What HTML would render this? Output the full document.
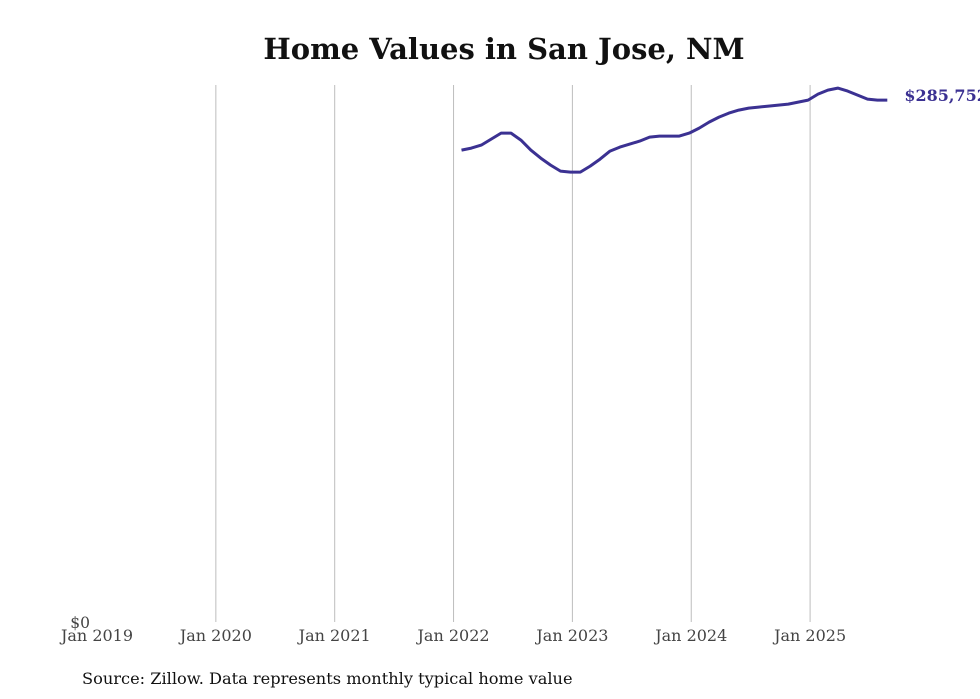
<!DOCTYPE html>
<html><head><meta charset="utf-8"><style>
body{margin:0;background:#fff;overflow:hidden;}
svg{display:block;font-family:"DejaVu Serif","Liberation Serif",serif;}
</style></head><body>
<svg id="chart" width="980" height="699" viewBox="0 0 980 699">
<text x="504" y="59" text-anchor="middle" font-size="29" font-weight="bold" fill="#111">Home Values in San Jose, NM</text>
<g id="grid"></g>
<g id="xticks"></g>
<text x="90" y="628" text-anchor="end" font-size="15.5" fill="#444">$0</text>
<path id="line" fill="none" stroke="#3b3192" stroke-width="3" stroke-linejoin="round"/>
<text id="endlabel" font-size="16" font-weight="bold" fill="#3b3192"></text>
<text x="82" y="684" font-size="16.2" fill="#111">Source: Zillow. Data represents monthly typical home value</text>
</svg>
<script>
const tickYears=[2019,2020,2021,2022,2023,2024,2025];
const startYear=2022, startMonth=1; // Feb 2022 (0-based month)
const values=[258373,259468,261110,264394,267679,267679,263847,258373,253994,250162,246877,246330,246330,249614,253446,257825,260015,261657,263299,265489,266036,266036,266036,267679,270416,273700,276437,278627,280269,281364,281911,282458,283006,283553,284648,285743,289027,291217,292312,290669,288480,286290,285743,285752];
const yMax=294000;
const x=t=>97+(t-2019)*118.85;
const y=v=>622-(v/yMax)*537;
const svg=document.getElementById('chart');
const ns='http://www.w3.org/2000/svg';
const grid=document.getElementById('grid'), xt=document.getElementById('xticks');
tickYears.forEach((yr,i)=>{
  if(i>0){const l=document.createElementNS(ns,'line');
  l.setAttribute('x1',x(yr));l.setAttribute('x2',x(yr));l.setAttribute('y1',85);l.setAttribute('y2',622);
  l.setAttribute('stroke','#bdbdbd');l.setAttribute('stroke-width','1');
  
  
  grid.appendChild(l);}
  const t=document.createElementNS(ns,'text');
  t.setAttribute('x',x(yr));t.setAttribute('y',641);t.setAttribute('text-anchor','middle');
  t.setAttribute('font-size','16');t.setAttribute('fill','#444');t.textContent='Jan '+yr;
  
  
  xt.appendChild(t);
});
let d='';
values.forEach((v,i)=>{const t=startYear+(startMonth+i)/12;d+=(i?'L':'M')+(x(t)-2).toFixed(1)+','+y(v).toFixed(1);});
document.getElementById('line').setAttribute('d',d);
const last=values[values.length-1], lt=startYear+(startMonth+values.length-1)/12;
const el=document.getElementById('endlabel');
el.setAttribute('x',x(lt)+15);el.setAttribute('y',y(last)+1);
el.textContent='$'+last.toLocaleString('en-US');
</script>
</body></html>
